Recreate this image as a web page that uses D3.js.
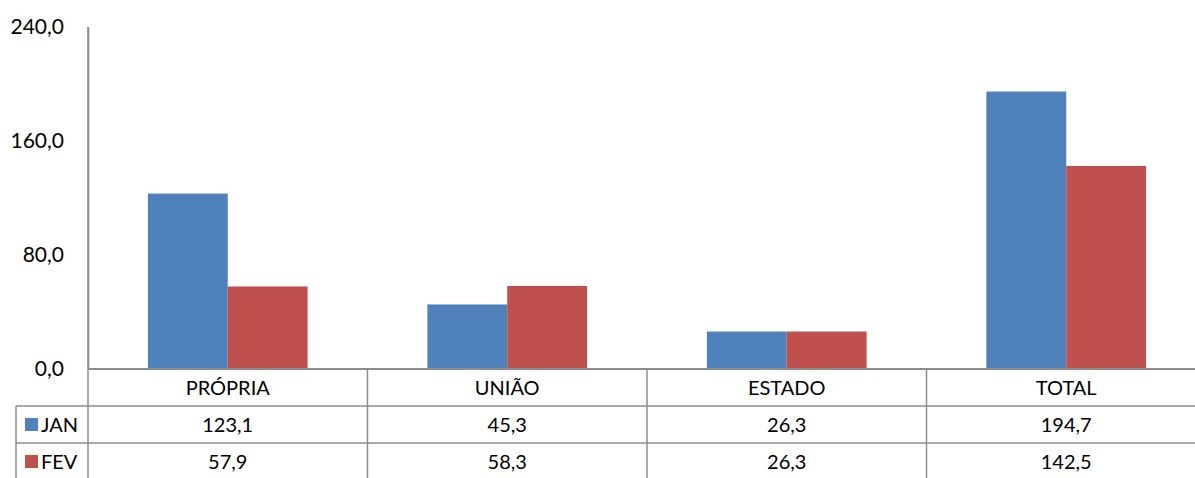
<html>
<head>
<script src="https://cdn.jsdelivr.net/npm/d3@7"></script>
<style>
  body { margin:0; background:#fff; }
  svg text { font-family: Lato, "Noto Sans", sans-serif; fill:#000; }
</style>
</head>
<body>
<svg id="svg" width="1195" height="478"></svg>
<script>
// data
const categories = ["PRÓPRIA", "UNIÃO", "ESTADO", "TOTAL"];
const seriesNames = ["JAN", "FEV"];
const jan = [123.1, 45.3, 26.3, 194.7];
const fev = [57.9, 58.3, 26.3, 142.5];
const yTicks = [0, 80, 160, 240];
const colors = ["#4F81BD", "#C0504D"];

const series = [jan, fev];
const fmt = v => d3.format(".1f")(v).replace(".", ",");

const dims = { width: 1195, height: 478 };
const plot = { left: 88, right: 1206, top: 27, bottom: 369 };
const rowH = 37;
const gridColor = "#8c8c8c";

const svg = d3.select("#svg");

const xScale = d3.scaleBand().domain(categories).range([plot.left, plot.right]);
const xInner = d3.scaleBand().domain(seriesNames)
  .range([xScale.bandwidth() * 60 / 280, xScale.bandwidth() * 220 / 280]);
const yScale = d3.scaleLinear().domain([0, 240]).range([plot.bottom, plot.top]);

// bars
series.forEach((vals, s) => {
  svg.append("g").selectAll("rect")
    .data(vals)
    .enter().append("rect")
    .attr("x", (d, i) => xScale(categories[i]) + xInner(seriesNames[s]))
    .attr("y", d => yScale(d))
    .attr("width", xInner.bandwidth())
    .attr("height", d => yScale(0) - yScale(d))
    .attr("fill", colors[s]);
});

// y axis
const yAxis = d3.axisLeft(yScale).tickValues(yTicks).tickFormat(fmt).tickSize(0).tickPadding(24);
const ya = svg.append("g").attr("transform", `translate(${plot.left},0)`).call(yAxis);
ya.select(".domain").attr("stroke", gridColor).attr("stroke-width", 1.5);
ya.selectAll("text").style("font-size", "21px");

// data table
const tbl = svg.append("g");
const rows = [plot.bottom, plot.bottom + rowH, plot.bottom + 2 * rowH, plot.bottom + 3 * rowH];
// horizontal lines
tbl.append("line").attr("x1", plot.left).attr("x2", plot.right)
  .attr("y1", rows[0]).attr("y2", rows[0]).attr("stroke", gridColor).attr("stroke-width", 2);
[rows[1], rows[2]].forEach(y => {
  tbl.append("line").attr("x1", 16).attr("x2", plot.right)
    .attr("y1", y).attr("y2", y).attr("stroke", gridColor).attr("stroke-width", 1.5);
});
// vertical lines
tbl.append("line").attr("x1", plot.left).attr("x2", plot.left)
  .attr("y1", plot.top).attr("y2", dims.height).attr("stroke", gridColor).attr("stroke-width", 1.5);
tbl.append("line").attr("x1", 16).attr("x2", 16)
  .attr("y1", rows[1]).attr("y2", dims.height).attr("stroke", gridColor).attr("stroke-width", 1.5);
categories.slice(1).forEach(c => {
  tbl.append("line").attr("x1", xScale(c)).attr("x2", xScale(c))
    .attr("y1", rows[0]).attr("y2", dims.height).attr("stroke", gridColor).attr("stroke-width", 1.5);
});

// category labels
tbl.selectAll("text.cat").data(categories).enter().append("text")
  .attr("class", "cat")
  .attr("x", d => xScale(d) + xScale.bandwidth() / 2)
  .attr("y", rows[0] + rowH / 2)
  .attr("dy", "0.35em")
  .attr("text-anchor", "middle")
  .style("font-size", "20px")
  .text(d => d);

// value rows + legend keys
series.forEach((vals, s) => {
  const yMid = rows[s + 1] + rowH / 2;
  tbl.append("rect").attr("x", 25).attr("y", yMid - 6.5).attr("width", 13).attr("height", 13).attr("fill", colors[s]);
  tbl.append("text").attr("x", 41).attr("y", yMid).attr("dy", "0.35em")
    .style("font-size", "20px").text(seriesNames[s]);
  tbl.append("g").selectAll("text").data(vals).enter().append("text")
    .attr("x", (d, i) => xScale(categories[i]) + xScale.bandwidth() / 2)
    .attr("y", yMid)
    .attr("dy", "0.35em")
    .attr("text-anchor", "middle")
    .style("font-size", "20px")
    .text(d => fmt(d));
});
</script>
</body>
</html>
